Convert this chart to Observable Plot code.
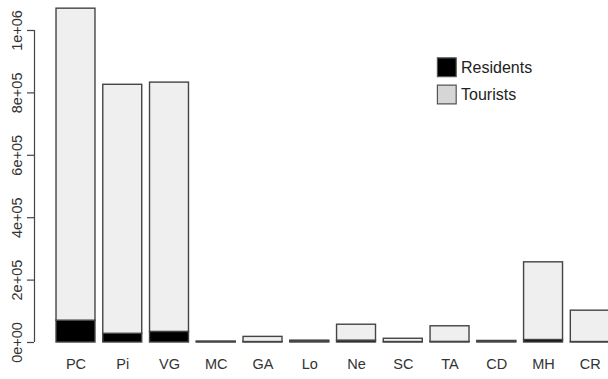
<!DOCTYPE html>
<html>
<head>
<meta charset="utf-8">
<script src="https://cdn.jsdelivr.net/npm/d3@7"></script>
<script src="https://cdn.jsdelivr.net/npm/@observablehq/plot@0.6"></script>
<style>
  html, body { margin: 0; padding: 0; background: #fff; overflow: hidden; }
  #chart { width: 608px; height: 379px; overflow: hidden; }
  svg { font-family: "Liberation Sans", Arial, Helvetica, sans-serif; }
</style>
</head>
<body>
<div id="chart"></div>
<script>
const categories = ["PC", "Pi", "VG", "MC", "GA", "Lo", "Ne", "SC", "TA", "CD", "MH", "CR"];
const residents  = [70000, 28000, 34000, 1500, 1500, 2500, 6000, 1500, 2000, 3000, 8000, 1500];
const tourists   = [1000000, 798000, 799000, 1500, 16500, 3500, 51000, 10500, 50000, 2000, 249000, 100500];
const groups = ["Residents", "Tourists"];
const groupColors = ["#000000", "#efefef"];
const legendColors = ["#000000", "#d6d6d6"];
const yTicks = [0, 200000, 400000, 600000, 800000, 1000000];
const yTickLabels = ["0e+00", "2e+05", "4e+05", "6e+05", "8e+05", "1e+06"];

const data = [];
categories.forEach((c, i) => {
  data.push({cat: c, group: groups[0], value: residents[i]});
  data.push({cat: c, group: groups[1], value: tourists[i]});
});

const chart = Plot.plot({
  width: 608,
  height: 379,
  marginTop: 30,
  marginBottom: 37,
  marginLeft: 34,
  marginRight: 0,
  style: {fontFamily: "'Liberation Sans', Arial, sans-serif", fontSize: "14px", background: "#fff", overflow: "hidden"},
  x: {domain: categories, range: [33.9, 631.4], paddingInner: 1 / 6, paddingOuter: 0.473, round: false, axis: null},
  y: {domain: [0, 1000000], axis: null},
  color: {domain: groups, range: groupColors},
  marks: [
    Plot.barY(data, {x: "cat", y: "value", fill: "group", stroke: "#444", strokeWidth: 1.4, order: groups}),
    Plot.axisY({ticks: yTicks, tickSize: 7, tickFormat: () => "", label: null, stroke: "#444", strokeWidth: 1.2}),
    Plot.ruleX([0], {x: null, y1: 0, y2: 1000000, dx: 34 - (34 + 608) / 2, stroke: "#444", strokeWidth: 1.2}),
    Plot.text(yTicks, {y: d => d, text: (d, i) => yTickLabels[i], frameAnchor: "left", rotate: -90, dx: -17.5, textAnchor: "middle", lineAnchor: "middle", fill: "#333", fontSize: 14.5}),
    Plot.text(categories, {x: d => d, text: d => d, frameAnchor: "bottom", dy: 26.5, fill: "#333", fontSize: 14.5}),
    ...groups.map((g, i) => Plot.dot([g], {frameAnchor: "top-left", dx: 412.3, dy: 36.7 + 27.3 * i, symbol: "square", r: 10.6, fill: legendColors[i], stroke: "#555", strokeWidth: 1.2})),
    ...groups.map((g, i) => Plot.text([g], {text: d => d, frameAnchor: "top-left", dx: 426.5, dy: 37.5 + 27.3 * i, textAnchor: "start", lineAnchor: "middle", fill: "#222", fontSize: 16}))
  ]
});
document.getElementById("chart").appendChild(chart);
</script>
</body>
</html>
